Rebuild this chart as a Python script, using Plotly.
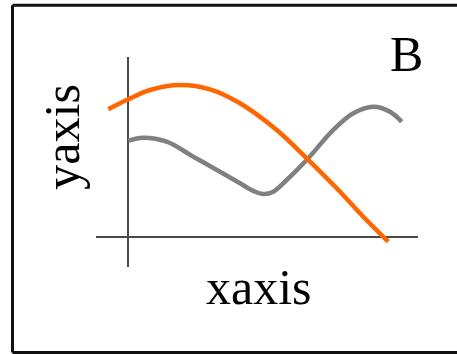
import plotly.graph_objects as go

# Schematic curve data (in data units)
orange_x = [-0.616, 0.009, 0.688, 1.625, 2.563, 3.5, 4.647, 5.584, 6.522, 7.353, 8.134]
orange_y = [4.257, 4.59, 4.9, 5.067, 4.923, 4.457, 3.567, 2.623, 1.623, 0.677, -0.157]

gray_x = [0.009, 0.478, 1.209, 2.041, 2.875, 3.5, 3.969, 4.228, 4.541, 4.959, 5.584, 6.416, 7.041, 7.666, 8.188, 8.553]
gray_y = [3.21, 3.31, 3.177, 2.677, 2.177, 1.79, 1.51, 1.433, 1.51, 1.9, 2.567, 3.567, 4.123, 4.343, 4.177, 3.843]

x_label = "xaxis"
y_label = "yaxis"
panel_label = "B"

FONT = "Liberation Serif"

fig = go.Figure()
fig.add_trace(go.Scatter(x=gray_x, y=gray_y, mode="lines",
                         line=dict(color="#808080", width=4.5, shape="spline", smoothing=1.0),
                         hoverinfo="skip", showlegend=False))
fig.add_trace(go.Scatter(x=orange_x, y=orange_y, mode="lines",
                         line=dict(color="#FF6600", width=4.5, shape="spline", smoothing=1.0),
                         hoverinfo="skip", showlegend=False))

W, H = 457, 354
L, R, T, B = 96, 39, 57, 87
pw, ph = W - L - R, H - T - B

def px_x(p):
    return (p - L) / pw

def px_y(p):
    return (H - B - p) / ph

border = dict(color="#111111", width=3)
bx0, bx1, by0, by1 = px_x(12.5), px_x(600), px_y(352.5), px_y(5.3)

fig.update_layout(
    width=W, height=H,
    margin=dict(l=L, r=R, t=T, b=B, pad=0),
    paper_bgcolor="white", plot_bgcolor="white",
    font=dict(family=FONT, color="black"),
    xaxis=dict(range=[-1, 9.0625], showgrid=False, showticklabels=False, ticks="",
               zeroline=True, zerolinecolor="#4a4a4a", zerolinewidth=1.5, showline=False,
               fixedrange=True),
    yaxis=dict(range=[-1, 6], showgrid=False, showticklabels=False, ticks="",
               zeroline=True, zerolinecolor="#4a4a4a", zerolinewidth=1.5, showline=False,
               fixedrange=True),
    shapes=[
        dict(type="line", xref="paper", yref="paper", x0=bx0, x1=bx0, y0=by0, y1=by1, line=border, layer="above"),
        dict(type="line", xref="paper", yref="paper", x0=bx0, x1=bx1, y0=by1, y1=by1, line=border, layer="above"),
        dict(type="line", xref="paper", yref="paper", x0=bx0, x1=bx1, y0=by0, y1=by0, line=border, layer="above"),
    ],
    annotations=[
        dict(text=x_label, xref="paper", yref="paper", x=px_x(258.5), y=px_y(287),
             xanchor="center", yanchor="middle", showarrow=False, font=dict(size=50, family=FONT)),
        dict(text=y_label, xref="paper", yref="paper", x=px_x(62), y=px_y(136.7),
             xanchor="center", yanchor="middle", textangle=-90, showarrow=False,
             font=dict(size=50, family=FONT)),
        dict(text=panel_label, xref="paper", yref="paper", x=px_x(406.5), y=px_y(54),
             xanchor="center", yanchor="middle", showarrow=False, font=dict(size=50, family=FONT)),
    ],
)

fig.write_html("out.html", config={"displayModeBar": False},
               post_script=("document.documentElement.style.margin='0';"
                            "document.documentElement.style.overflow='hidden';"
                            "document.body.style.margin='0';document.body.style.overflow='hidden';"))
